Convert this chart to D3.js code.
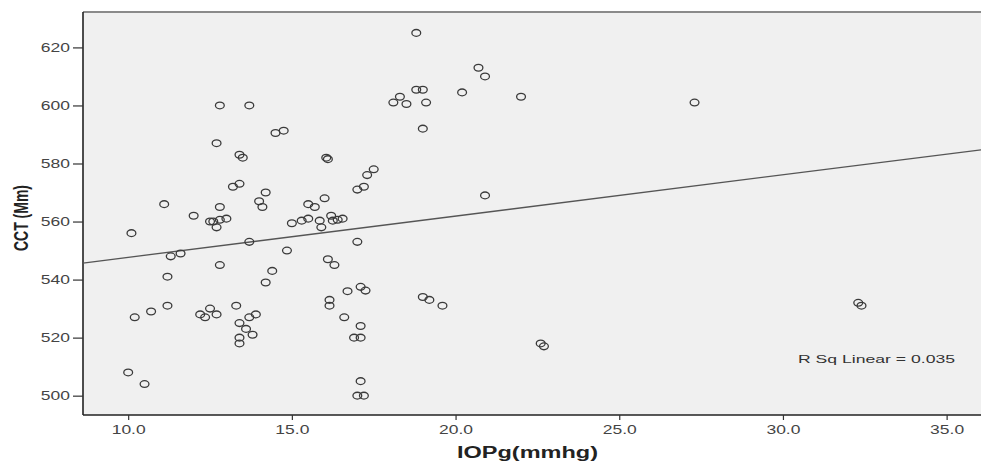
<!DOCTYPE html>
<html><head><meta charset="utf-8">
<script src="https://cdn.jsdelivr.net/npm/d3@7"></script>
<style>body{margin:0;background:#fff}svg{display:block}</style>
</head><body>
<svg id="c" width="981" height="461"></svg>
<script>
const iopg = [10.1,10.0,10.5,10.2,10.7,11.2,11.2,11.1,11.3,11.6,12.0,
  12.2,12.35,12.5,12.7,12.8,13.7,12.7,13.4,13.5,13.2,13.4,14.2,14.0,14.1,12.8,
  12.5,12.6,12.8,13.0,12.7,13.7,14.85,12.8,14.4,14.2,
  13.3,13.4,13.7,13.9,13.6,13.8,13.4,13.4,14.5,14.75,
  16.05,16.1,17.5,17.3,17.2,17.0,16.0,15.5,15.7,
  15.0,15.3,15.5,15.85,15.9,16.2,16.25,16.4,16.55,
  17.0,16.1,16.3,17.1,17.25,16.7,16.15,16.15,16.6,17.1,16.9,17.1,17.1,17.0,17.2,
  19.0,19.2,19.6,
  18.8,20.7,20.9,18.8,19.0,18.3,18.1,18.5,19.1,20.2,22.0,19.0,
  20.9,22.6,22.7,27.3,32.3,32.4];
const cct = [556,508,504,527,529,531,541,566,548,549,562,
  528,527,530,528,600,600,587,583,582,572,573,570,567,565,565,
  560,560,560.6,561,558,553,550,545,543,539,
  531,525,527,528,523,521,520,518,590.5,591.3,
  582,581.5,578,576,572,571,568,566,565,
  559.4,560.3,561,560.3,558,562,560.3,560.6,561,
  553,547,545,537.5,536.2,536,533,531,527,524,520,520,505,500,500,
  534,533,531,
  625,613,610,605.4,605.4,603,601,600.5,601,604.5,603,592,
  569,518,517,601,532,531];
const xTicks = [10,15,20,25,30,35];
const yTicks = [500,520,540,560,580,600,620];
const fitX = [8.62, 36.05];
const fitY = [545.7, 584.7];
const rSqLabel = "R Sq Linear = 0.035";
const xTitle = "IOPg(mmhg)";
const yTitle = "CCT (Mm)";

const svg = d3.select("#c");
const L = 83, R = 981, T = 12, B = 415;
const SX = 1.4;
const x = d3.scaleLinear().domain([8.62, 36.05]).range([L, R]);
const y = d3.scaleLinear().domain([493.34, 632.2]).range([B, T]);

svg.append("rect").attr("x", L).attr("y", T).attr("width", R - L).attr("height", B - T)
  .attr("fill", "#f0f0f0");
svg.append("line").attr("x1", L).attr("x2", R).attr("y1", T).attr("y2", T)
  .attr("stroke", "#8a8a8a").attr("stroke-width", 2);

const font = "'Liberation Sans', Arial, sans-serif";

const yAxis = svg.append("g").attr("transform", `translate(${L},0)`)
  .call(d3.axisLeft(y).tickValues(yTicks).tickSize(10).tickSizeOuter(0).tickFormat(d3.format("d")));
const xAxis = svg.append("g").attr("transform", `translate(0,${B})`)
  .call(d3.axisBottom(x).tickValues(xTicks).tickSize(5).tickSizeOuter(0).tickFormat(d3.format(".1f")));
[xAxis, yAxis].forEach(g => {
  g.select(".domain").attr("stroke", "#222").attr("stroke-width", 1.6);
  g.selectAll(".tick line").attr("stroke", "#333").attr("stroke-width", 1.2);
  g.selectAll(".tick text").attr("fill", "#444").style("font-family", font).style("font-size", "12.5px")
    .attr("transform", `scale(${SX},1)`);
});
yAxis.select(".domain").attr("d", `M0,${T}V${B}`);
xAxis.select(".domain").attr("d", `M${L},0H${R}`);
yAxis.selectAll(".tick text").attr("x", -13 / SX);
xAxis.selectAll(".tick text").attr("y", 10);

svg.append("line")
  .attr("x1", x(fitX[0])).attr("y1", y(fitY[0]))
  .attr("x2", x(fitX[1])).attr("y2", y(fitY[1]))
  .attr("stroke", "#555").attr("stroke-width", 1.3);

svg.append("g").selectAll("ellipse").data(iopg.map((v, i) => [v, cct[i]])).join("ellipse")
  .attr("cx", d => x(d[0])).attr("cy", d => y(d[1]))
  .attr("rx", 4.4).attr("ry", 3.4)
  .attr("fill", "none").attr("stroke", "#3a3a3a").attr("stroke-width", 1.3);

svg.append("text").attr("x", 798).attr("y", 363).text(rSqLabel)
  .attr("textLength", 157).attr("lengthAdjust", "spacingAndGlyphs")
  .attr("fill", "#333").style("font-family", font).style("font-size", "11px");

svg.append("text").attr("x", 457).attr("y", 458).text(xTitle)
  .attr("textLength", 141).attr("lengthAdjust", "spacingAndGlyphs")
  .attr("fill", "#222").style("font-family", font).style("font-size", "16px").style("font-weight", "bold");
svg.append("text").attr("transform", `translate(28,218) scale(${SX},1) rotate(-90)`).attr("text-anchor", "middle").text(yTitle)
  .attr("fill", "#222").style("font-family", font).style("font-size", "14px").style("font-weight", "bold");
</script>
</body></html>
